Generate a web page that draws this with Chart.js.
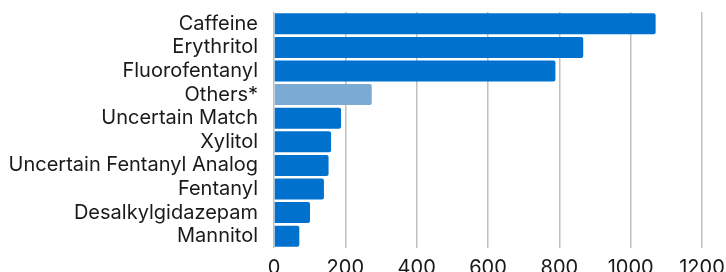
<!DOCTYPE html>
<html>
<head>
<meta charset="utf-8">
<script src="https://cdn.jsdelivr.net/npm/chart.js@4.4.1/dist/chart.umd.min.js"></script>
<style>
  html, body { margin: 0; padding: 0; background: #fff; overflow: hidden; }
  #wrap { position: relative; width: 726px; height: 284px; }
</style>
</head>
<body>
<div id="wrap"><canvas id="barChart"></canvas></div>
<script>
// ----- data -----
const categories = ['Caffeine', 'Erythritol', 'Fluorofentanyl', 'Others*', 'Uncertain Match',
    'Xylitol', 'Uncertain Fentanyl Analog', 'Fentanyl', 'Desalkylgidazepam', 'Mannitol'];
const counts = [1070, 867, 789, 274, 188, 160, 153, 140, 101, 71];
const xTicks = [0, 200, 400, 600, 800, 1000, 1200];

const mainColor = '#0072CE';
const otherColor = '#7BAAD3';
const labelFont = { family: 'Inter', size: 20 };

const ctx = document.getElementById('barChart').getContext('2d');
new Chart(ctx, {
    type: 'bar',
    data: {
        labels: categories,
        datasets: [{
            data: counts,
            backgroundColor: categories.map(c => c === 'Others*' ? otherColor : mainColor),
            borderWidth: 0,
            borderRadius: 2,
            categoryPercentage: 1,
            barPercentage: 0.89
        }]
    },
    options: {
        indexAxis: 'y',
        responsive: true,
        maintainAspectRatio: false,
        animation: false,
        layout: { padding: { top: 12, left: 0, right: 0, bottom: 0 } },
        plugins: { legend: { display: false }, tooltip: { enabled: false } },
        scales: {
            x: {
                min: 0,
                max: 1200,
                afterBuildTicks: axis => { axis.ticks = xTicks.map(v => ({ value: v })); },
                afterFit: axis => { axis.height = 36; axis.paddingLeft = 0; axis.paddingRight = 24; },
                grid: { color: '#C0C0C0', lineWidth: 1.5, drawTicks: false },
                border: { display: false },
                ticks: { color: '#1a1a1a', padding: 8, font: labelFont, callback: v => String(v) }
            },
            y: {
                afterFit: axis => { axis.width = 274; axis.paddingTop = 0; axis.paddingBottom = 0; },
                grid: { display: false, drawTicks: false },
                border: { display: false },
                ticks: { color: '#1a1a1a', padding: 16, autoSkip: false, font: labelFont }
            }
        }
    }
});
</script>
</body>
</html>
